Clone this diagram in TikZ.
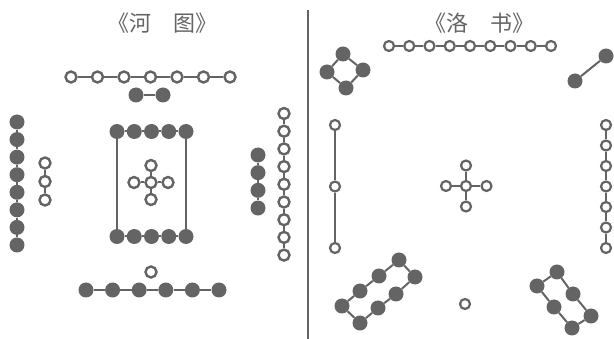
\documentclass[tikz,border=0pt]{standalone}
\usepackage{fontspec}
\newfontfamily\cjk{Noto Sans CJK SC}
\definecolor{ink}{RGB}{100,100,100}
\begin{document}
\begin{tikzpicture}[x=1pt,y=-1pt,
  wc/.style={circle,draw=ink,line width=2.4pt,fill=white,minimum size=11pt,inner sep=0pt},
  wcs/.style={wc,minimum size=10pt,line width=2.2pt},
  bc/.style={circle,fill=ink,minimum size=15pt,inner sep=0pt},
  link/.style={draw=ink,line width=2pt},
  thin link/.style={draw=ink,line width=1.4pt},
  ttl/.style={text=ink,font=\cjk\fontsize{22}{22}\selectfont,inner sep=0pt}]
\useasboundingbox (0,0) rectangle (614,339);

% ---------- titles ----------
\node[ttl] (title1) at (162,23) {《河\hspace{1em}图》};
\node[ttl] (title2) at (479,23) {《洛\hspace{1em}书》};

% ---------- divider ----------
\coordinate (d1) at (308,10);
\coordinate (d2) at (308,339);
\draw[ink,line width=1.8pt] (d1) -- (d2);

% ================= He Tu =================
% top row: 7 white
\foreach \i in {0,...,6} \node[wc] (ht\i) at ({71+26.5*\i},77) {};
\foreach \i [count=\j from 1] in {0,...,5} \draw[link] (ht\i) -- (ht\j);
% 2 black
\node[bc] (hb0) at (136,95) {};
\node[bc] (hb1) at (163,95) {};
\draw[link] (hb0) -- (hb1);
% left column: 8 black
\foreach \i in {0,...,7} \node[bc] (hl\i) at (17,{122+17.57*\i}) {};
\foreach \i [count=\j from 1] in {0,...,6} \draw[link] (hl\i) -- (hl\j);
% 3 white
\foreach \i in {0,...,2} \node[wc] (hw\i) at (45,{163+18.5*\i}) {};
\foreach \i [count=\j from 1] in {0,...,1} \draw[link] (hw\i) -- (hw\j);
% centre box: 5 black top, 5 black bottom
\foreach \i in {0,...,4} {
  \node[bc] (hct\i) at ({117+17.25*\i},131.5) {};
  \node[bc] (hcb\i) at ({117+17.25*\i},236.5) {};
}
\foreach \i [count=\j from 1] in {0,...,3} {
  \draw[link] (hct\i) -- (hct\j);
  \draw[link] (hcb\i) -- (hcb\j);
}
\draw[thin link] (hct0) -- (hcb0);
\draw[thin link] (hct4) -- (hcb4);
% centre cross: 5 white
\node[wc] (hx0) at (151,182.5) {};
\node[wc] (hxn) at (151,165.5) {};
\node[wc] (hxs) at (151,199.5) {};
\node[wc] (hxw) at (134,182.5) {};
\node[wc] (hxe) at (168,182.5) {};
\foreach \k in {hxn,hxs,hxw,hxe} \draw[link] (hx0) -- (\k);
% right: 4 black
\foreach \i in {0,...,3} \node[bc] (hr\i) at (258,{155+17.67*\i}) {};
\foreach \i [count=\j from 1] in {0,...,2} \draw[link] (hr\i) -- (hr\j);
% right: 9 white
\foreach \i in {0,...,8} \node[wc] (hs\i) at (284,{113.5+17.7*\i}) {};
\foreach \i [count=\j from 1] in {0,...,7} \draw[link] (hs\i) -- (hs\j);
% bottom: 1 white, 6 black
\node[wc] (hbw) at (151,272) {};
\foreach \i in {0,...,5} \node[bc] (hbb\i) at ({86+26.6*\i},290) {};
\foreach \i [count=\j from 1] in {0,...,4} \draw[link] (hbb\i) -- (hbb\j);

% ================= Luo Shu =================
% top: 9 white
\foreach \i in {0,...,8} \node[wcs] (lt\i) at ({389+20.25*\i},46) {};
\foreach \i [count=\j from 1] in {0,...,7} \draw[link] (lt\i) -- (lt\j);
% top-left: 4 black diamond
\node[bc] (ld0) at (343,54) {};
\node[bc] (ld1) at (363,70) {};
\node[bc] (ld2) at (346,88) {};
\node[bc] (ld3) at (327,72) {};
\draw[link] (ld0) -- (ld1) -- (ld2) -- (ld3) -- (ld0);
% top-right: 2 black
\node[bc] (lp0) at (606,56) {};
\node[bc] (lp1) at (575,81) {};
\draw[link] (lp0) -- (lp1);
% left: 3 white
\foreach \i in {0,...,2} \node[wcs] (ll\i) at (335,{125+61.5*\i}) {};
\foreach \i [count=\j from 1] in {0,...,1} \draw[thin link] (ll\i) -- (ll\j);
% centre cross: 5 white
\node[wcs] (lx0) at (466,186) {};
\node[wcs] (lxn) at (466,165.5) {};
\node[wcs] (lxs) at (466,206.5) {};
\node[wcs] (lxw) at (446,186) {};
\node[wcs] (lxe) at (486.5,186) {};
\foreach \k in {lxn,lxs,lxw,lxe} \draw[link] (lx0) -- (\k);
% right: 7 white
\foreach \i in {0,...,6} \node[wcs] (lr\i) at (606,{125+20.5*\i}) {};
\foreach \i [count=\j from 1] in {0,...,5} \draw[link] (lr\i) -- (lr\j);
% bottom: 1 white
\node[wcs] (lbw) at (465,304) {};
% bottom-left: 8 black loop
\node[bc] (le0) at (342,306) {};
\node[bc] (le1) at (360,291) {};
\node[bc] (le2) at (379,276) {};
\node[bc] (le3) at (399,260) {};
\node[bc] (le4) at (415,277) {};
\node[bc] (le5) at (396,294) {};
\node[bc] (le6) at (378,308) {};
\node[bc] (le7) at (360,323) {};
\draw[link] (le0) -- (le1) -- (le2) -- (le3) -- (le4) -- (le5) -- (le6) -- (le7) -- (le0);
% bottom-right: 6 black loop
\node[bc] (lf0) at (557,272) {};
\node[bc] (lf1) at (573,294) {};
\node[bc] (lf2) at (591,316) {};
\node[bc] (lf3) at (572,328) {};
\node[bc] (lf4) at (554,307) {};
\node[bc] (lf5) at (537,286) {};
\draw[link] (lf0) -- (lf1) -- (lf2) -- (lf3) -- (lf4) -- (lf5) -- (lf0);
\end{tikzpicture}
\end{document}
